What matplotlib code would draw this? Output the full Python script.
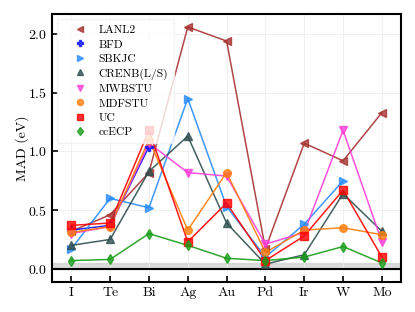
import numpy as np
import matplotlib
matplotlib.use("Agg")
import matplotlib.pyplot as plt

plt.rcParams['font.family'] = 'cmr10'
plt.rcParams['mathtext.fontset'] = 'cm'
plt.rcParams['axes.formatter.use_mathtext'] = True

elements = ['I', 'Te', 'Bi', 'Ag', 'Au', 'Pd', 'Ir', 'W', 'Mo']

# MAD values (eV); None where no data
lanl2 = [0.32, 0.46, 0.82, 2.06, 1.94, 0.17, 1.07, 0.92, 1.33]
bfd = [0.33, 0.37, 1.04, None, None, None, None, None, None]
sbkjc = [0.17, 0.60, 0.52, 1.45, 0.53, 0.10, 0.38, 0.75, None]
crenb = [0.20, 0.25, 0.83, 1.13, 0.39, 0.04, 0.12, 0.64, 0.32]
mwbstu = [0.30, 0.36, 1.07, 0.82, 0.79, 0.21, 0.31, 1.18, 0.23]
mdfstu = [0.31, 0.36, 1.10, 0.33, 0.82, 0.14, 0.33, 0.35, 0.29]
uc = [0.37, 0.39, 1.18, 0.23, 0.56, 0.07, 0.28, 0.67, 0.10]
ccecp = [0.07, 0.08, 0.30, 0.20, 0.09, 0.07, 0.10, 0.19, 0.05]

series = [
    ('LANL2', lanl2, '<', '#a83232'),
    ('BFD', bfd, 'P', '#1010ff'),
    ('SBKJC', sbkjc, '>', '#2a8cff'),
    ('CRENB(L/S)', crenb, '^', '#2f4f4f'),
    ('MWBSTU', mwbstu, 'v', '#ff3fd8'),
    ('MDFSTU', mdfstu, 'o', '#ff7f0e'),
    ('UC', uc, 's', '#ff0000'),
    ('ccECP', ccecp, 'd', '#1a9e1a'),
]

fig, ax = plt.subplots(figsize=(4.15, 3.12), dpi=100)
x = np.arange(len(elements))

for name, vals, mk, col in series:
    y = np.array([np.nan if v is None else v for v in vals])
    ax.plot(x, y, color=col, lw=1.1, alpha=0.9, zorder=3)
    ax.plot(x, y, ls='none', marker=mk, ms=5.5, color=col, alpha=0.8,
            label=name, zorder=4)

ax.axhspan(0, 0.05, color='lightgray', alpha=0.8, zorder=1)
ax.axhline(0, color='k', lw=1.5, zorder=2)

ax.set_xlim(-0.5, 8.5)
ax.set_ylim(-0.11, 2.17)
ax.set_xticks(x)
ax.set_xticklabels(elements)
ax.set_yticks([0, 0.5, 1.0, 1.5, 2.0])
ax.set_ylabel('MAD (eV)', labelpad=-0.5)
ax.grid(True, color='#eeeeee', lw=0.6, zorder=0)
ax.tick_params(direction='in', length=4, width=1.2, labelsize=10)
for s in ax.spines.values():
    s.set_linewidth(1.5)

ax.legend(loc='upper left', fontsize=8.3, frameon=True, framealpha=0.8,
          edgecolor='#f0f0f0', handlelength=3.0, handletextpad=0.1,
          labelspacing=0.38, borderpad=0.5, borderaxespad=0.45,
          markerscale=0.8)

fig.subplots_adjust(left=0.125, right=0.967, top=0.955, bottom=0.097)
fig.savefig('out.png', dpi=100)
